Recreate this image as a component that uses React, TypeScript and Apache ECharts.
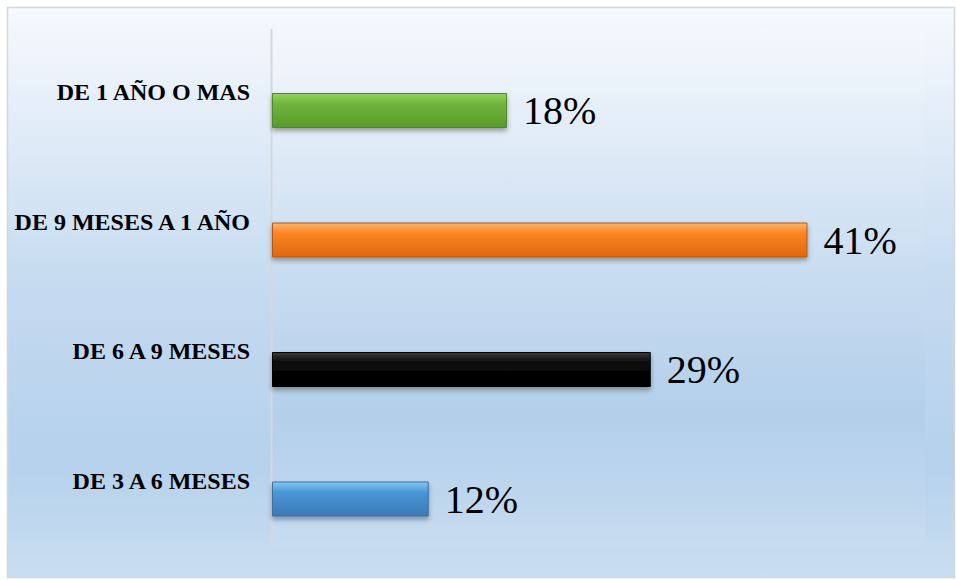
import React, { useEffect, useRef } from "react";
import * as echarts from "echarts";

const categories = ["DE 3 A 6 MESES", "DE 6 A 9 MESES", "DE 9 MESES A 1 AÑO", "DE 1 AÑO O MAS"];
const values = [12, 29, 41, 18];
const barColors = [
  ["#7cc8f5", "#4a97d8", "#3a78b5"],
  ["#3a3a3a", "#0a0a0a", "#000000"],
  ["#ffb565", "#fb8424", "#de690e"],
  ["#92d45a", "#6fb63c", "#579a2a"],
];
const borderColors = ["#3c6f9f", "#000000", "#b8580f", "#4f8a27"];

export default function App() {
  const ref = useRef<HTMLDivElement>(null);
  useEffect(() => {
    if (!ref.current) return;
    const chart = echarts.init(ref.current, undefined, { renderer: "svg" });
    const serif = "'Liberation Serif', 'Times New Roman', serif";
    chart.setOption({
      animation: false,
      graphic: [
        {
          type: "rect",
          z: -10,
          shape: { x: 7.5, y: 7.5, width: 947, height: 570 },
          style: {
            fill: new echarts.graphic.LinearGradient(0, 0, 0, 1, [
              { offset: 0, color: "#f6f9fd" },
              { offset: 0.5, color: "#c4daf0" },
              { offset: 0.8, color: "#b5d1eb" },
              { offset: 1, color: "#c9def1" },
            ]),
            stroke: "#d6d6d6",
            lineWidth: 1.5,
          },
        },
        {
          type: "rect",
          z: -9,
          shape: { x: 270, y: 29, width: 655, height: 518 },
          style: {
            fill: new echarts.graphic.LinearGradient(0, 0, 0, 1, [
              { offset: 0, color: "#f4f8fc" },
              { offset: 0.5, color: "#c6dbf0" },
              { offset: 0.75, color: "#b3cfea" },
              { offset: 1, color: "#c6dcf0" },
            ]),
          },
        },
        {
          type: "line",
          z: -8,
          shape: { x1: 271.5, y1: 29, x2: 271.5, y2: 547 },
          style: { stroke: "#d3d8dd", lineWidth: 2 },
        },
      ],
      grid: { left: 272, right: 31, top: 45.75, bottom: 16.25 },
      xAxis: {
        type: "value",
        min: 0,
        max: 50,
        show: false,
      },
      yAxis: {
        type: "category",
        data: categories,
        axisLine: { show: false },
        axisTick: { show: false },
        splitLine: { show: false },
        axisLabel: {
          margin: 22,
          color: "#000",
          fontFamily: serif,
          fontWeight: "bold",
          fontSize: 24,
          verticalAlign: "bottom",
          lineHeight: 37,
        },
      },
      series: [
        {
          type: "bar",
          barWidth: 35,
          data: values.map((v, i) => ({
            value: v,
            itemStyle: {
              color: new echarts.graphic.LinearGradient(0, 0, 0, 1, [
                { offset: 0, color: barColors[i][0] },
                { offset: 0.3, color: barColors[i][1] },
                { offset: 1, color: barColors[i][2] },
              ]),
              borderColor: borderColors[i],
              borderWidth: 1,
              shadowColor: "rgba(0,0,0,0.35)",
              shadowBlur: 5,
              shadowOffsetY: 3,
            },
          })),
          label: {
            show: true,
            position: "right",
            distance: 16,
            formatter: "{c}%",
            color: "#000",
            fontFamily: serif,
            fontSize: 40,
          },
        },
      ],
    });
    return () => chart.dispose();
  }, []);
  return (
    <div
      ref={ref}
      style={{ position: "absolute", left: 0, top: 0, width: 956, height: 580 }}
    />
  );
}
